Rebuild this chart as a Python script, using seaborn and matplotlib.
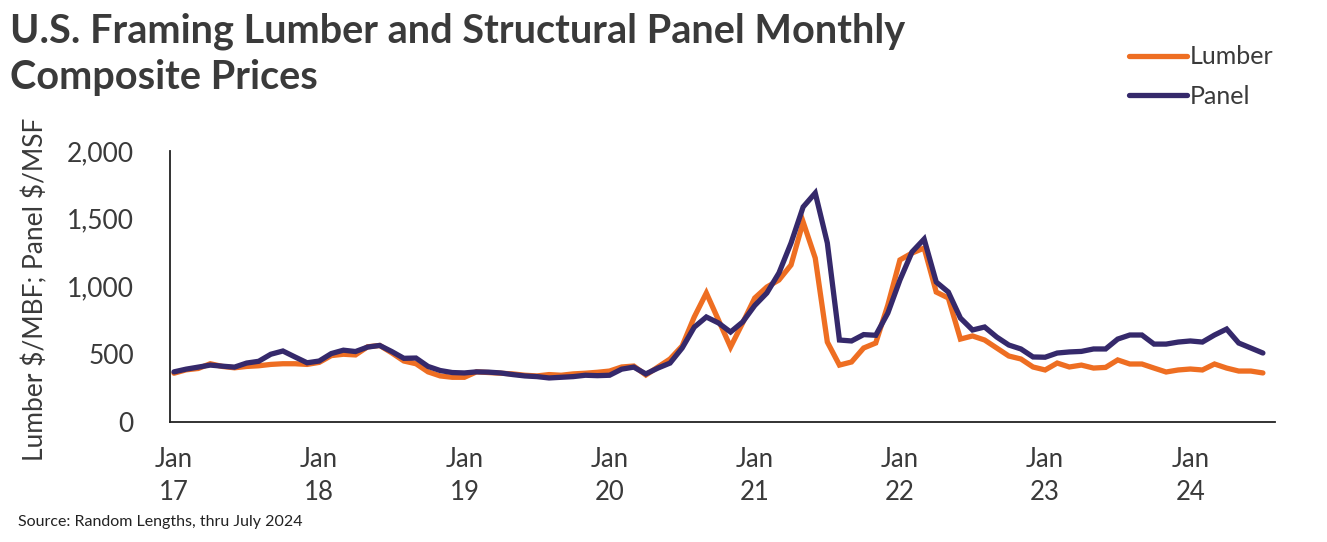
import numpy as np
import pandas as pd
import matplotlib
matplotlib.use("Agg")
import matplotlib.pyplot as plt
import seaborn as sns
from matplotlib.lines import Line2D

# ---- data (monthly, Jan 2017 .. Jul 2024) ----
lumber = [
    360, 385, 395, 430, 410, 400, 410, 415, 425, 430, 430, 425,      # 2017
    440, 490, 500, 495, 555, 565, 510, 450, 430, 370, 340, 330,      # 2018
    330, 370, 365, 360, 355, 345, 340, 350, 345, 355, 360, 367,      # 2019
    376, 406, 413, 347, 406, 465, 561, 775, 952, 753, 553, 731,      # 2020
    915, 996, 1048, 1159, 1476, 1210, 590, 420, 443, 546, 583, 863,  # 2021
    1196, 1247, 1284, 959, 915, 612, 635, 605, 546, 487, 465, 406,   # 2022
    384, 435, 406, 420, 398, 403, 458, 428, 428, 398, 369, 384,      # 2023
    391, 384, 428, 398, 376, 376, 362,                               # 2024
]
panel = [
    370, 390, 405, 420, 412, 405, 435, 448, 500, 524, 480, 437,      # 2017
    450, 505, 530, 520, 553, 565, 520, 470, 472, 410, 380, 365,      # 2018
    362, 370, 368, 362, 350, 340, 335, 325, 330, 335, 345, 342,      # 2019
    345, 390, 405, 355, 398, 435, 546, 700, 775, 731, 664, 738,      # 2020
    860, 952, 1100, 1321, 1587, 1690, 1321, 605, 598, 645, 640, 804, # 2021
    1048, 1255, 1350, 1033, 959, 767, 679, 701, 627, 568, 539, 480,  # 2022
    478, 509, 517, 521, 539, 539, 612, 642, 642, 575, 575, 590,      # 2023
    598, 590, 642, 686, 583, 546, 509,                               # 2024
]
dates = pd.date_range("2017-01-01", periods=len(lumber), freq="MS")
x_labels = ["Jan\n17", "Jan\n18", "Jan\n19", "Jan\n20",
            "Jan\n21", "Jan\n22", "Jan\n23", "Jan\n24"]
y_ticks = [0, 500, 1000, 1500, 2000]

month_idx = np.arange(len(lumber))
df = pd.DataFrame({
    "month": np.concatenate([month_idx, month_idx]),
    "price": lumber + panel,
    "series": ["Lumber"] * len(lumber) + ["Panel"] * len(panel),
})

sns.set_theme(style="white")
plt.rcParams["font.family"] = ["Lato", "DejaVu Sans"]

ORANGE = "#EE6E22"
NAVY = "#35296B"
TEXT = "#3a3a3a"

fig = plt.figure(figsize=(13.27, 5.42), dpi=100)
ax = fig.add_axes([170 / 1327, 1 - 422 / 542, (1275 - 170) / 1327, (422 - 151) / 542])

sns.lineplot(data=df, x="month", y="price", hue="series",
             palette={"Lumber": ORANGE, "Panel": NAVY},
             linewidth=3.8, ax=ax, legend=False)
for l in ax.lines:
    l.set_solid_joinstyle("miter")

ax.set_xlim(-0.33, 91)
ax.set_ylim(0, 2000)
ax.set_yticks(y_ticks)
ax.set_yticklabels([f"{v:,}" for v in y_ticks], fontsize=19, color=TEXT)
jan_pos = [i for i, d in enumerate(dates) if d.month == 1]
ax.set_xticks(jan_pos)
ax.set_xticklabels(x_labels, fontsize=18.5, color=TEXT, linespacing=1.42)
ax.tick_params(axis="both", length=0)
ax.tick_params(axis="y", pad=26)
ax.tick_params(axis="x", pad=18)
ax.set_xlabel("")
ax.set_ylabel("")
for s in ["top", "right"]:
    ax.spines[s].set_visible(False)
for s in ["left", "bottom"]:
    ax.spines[s].set_color("#222222")
    ax.spines[s].set_linewidth(1.3)

fig.text(35 / 1327, 1 - 289 / 542, r"Lumber \$/MBF; Panel \$/MSF", rotation=90,
         ha="center", va="center", fontsize=19, color=TEXT)

fig.text(10 / 1327, 1 - 13 / 542,
         "U.S. Framing Lumber and Structural Panel Monthly\nComposite Prices",
         ha="left", va="top", fontsize=28.5, fontweight="bold", color=TEXT,
         linespacing=1.3)

fig.text(18 / 1327, 1 - 522 / 542, "Source: Random Lengths, thru July 2024",
         ha="left", va="center", fontsize=11.5, color="#222222")

# legend
handles = [Line2D([0], [0], color=ORANGE, lw=3.8),
           Line2D([0], [0], color=NAVY, lw=3.8)]
fig.legend(handles, ["Lumber", "Panel"], loc="upper left",
           bbox_to_anchor=(1106 / 1327, 1 - 23 / 542), frameon=False,
           fontsize=18, handlelength=2.35, handletextpad=0.1,
           labelspacing=0.65, labelcolor=TEXT)

fig.savefig("out.png", dpi=100)
